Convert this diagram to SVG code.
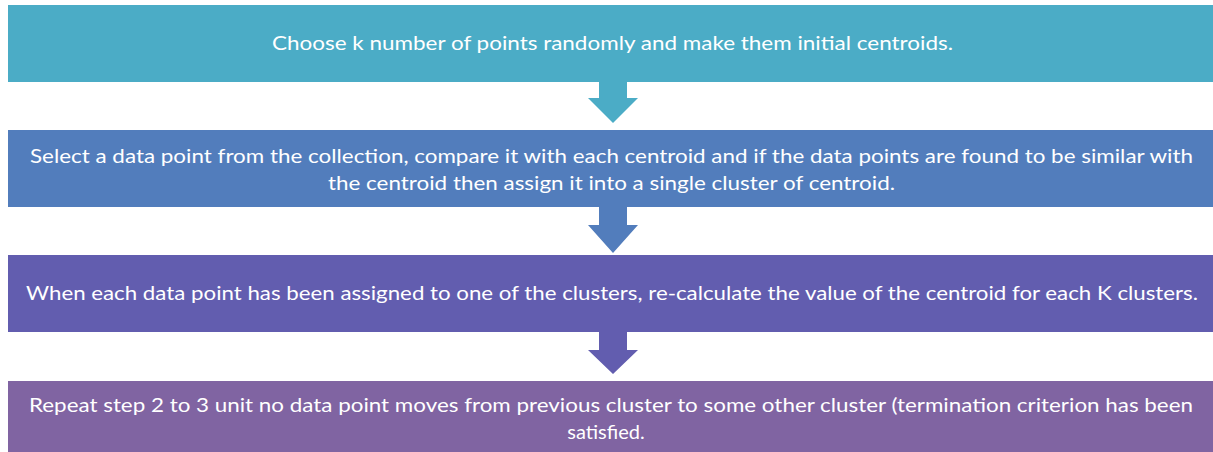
<svg xmlns="http://www.w3.org/2000/svg" width="1213" height="452" viewBox="0 0 1213 452">
  <style>
    .label { font-family: Lato, "Open Sans", sans-serif; font-size: 20px; fill: #ffffff; }
  </style>
  <rect width="1213" height="452" fill="#ffffff"/>

  <!-- connectors: block arrows between steps -->
  <g id="connectors">
    <path d="M599 80 L627 80 L627 98 L638 98 L613 123 L588 98 L599 98 Z" fill="#4BACC6"/>
    <path d="M599 205 L627 205 L627 225 L638 225 L613 253 L588 225 L599 225 Z" fill="#527DBC"/>
    <path d="M599 330 L627 330 L627 350 L638 350 L613 374 L588 350 L599 350 Z" fill="#625DAF"/>
  </g>

  <g id="step1">
    <rect x="8" y="5" width="1210" height="77" fill="#4BACC6"/>
    <text class="label" x="272" y="50" textLength="681" lengthAdjust="spacingAndGlyphs">Choose k number of points randomly and make them initial centroids.</text>
  </g>

  <g id="step2">
    <rect x="8" y="130" width="1210" height="77" fill="#527DBC"/>
    <text class="label" x="30" y="163" textLength="1163" lengthAdjust="spacingAndGlyphs">Select a data point from the collection, compare it with each centroid and if the data points are found to be similar with</text>
    <text class="label" x="328" y="190" textLength="567" lengthAdjust="spacingAndGlyphs">the centroid then assign it into a single cluster of centroid.</text>
  </g>

  <g id="step3">
    <rect x="8" y="255" width="1210" height="77" fill="#625DAF"/>
    <text class="label" x="26" y="300" textLength="1172" lengthAdjust="spacingAndGlyphs">When each data point has been assigned to one of the clusters, re-calculate the value of the centroid for each K clusters.</text>
  </g>

  <g id="step4">
    <rect x="8" y="381" width="1210" height="80" fill="#8064A2"/>
    <text class="label" x="29" y="412" textLength="1164" lengthAdjust="spacingAndGlyphs">Repeat step 2 to 3 unit no data point moves from previous cluster to some other cluster (termination criterion has been</text>
    <text class="label" x="606" y="439" text-anchor="middle">satisfied.</text>
  </g>
</svg>
